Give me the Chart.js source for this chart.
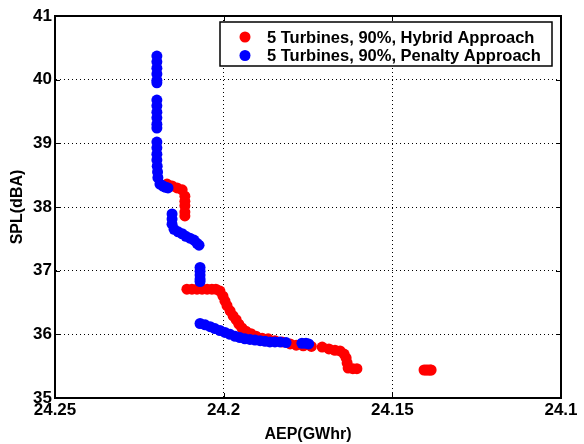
<!DOCTYPE html>
<html>
<head>
<meta charset="utf-8">
<script src="https://cdn.jsdelivr.net/npm/chart.js@4.4.0/dist/chart.umd.min.js"></script>
<style>
  html, body { margin: 0; padding: 0; background: #fff; }
  canvas { display: block; }
</style>
</head>
<body>
<canvas id="splChart" width="584" height="444"></canvas>
<script>
// tick labels
const xTicks = [24.25, 24.2, 24.15, 24.1];
const yTicks = [35, 36, 37, 38, 39, 40, 41];

// 5 Turbines, 90%, Hybrid Approach
const hybridAep = [
  24.2168, 24.2153, 24.2138, 24.2123, 24.2115, 24.2115, 24.2115, 24.2115, 24.2115,
  24.2109, 24.2094, 24.2079, 24.2064, 24.2049, 24.2035, 24.2023,
  24.2011, 24.2002, 24.1996, 24.1990, 24.1981, 24.1972, 24.1963, 24.1955, 24.1946,
  24.1934, 24.1919, 24.1904, 24.1886, 24.1868, 24.1848, 24.1827, 24.1803, 24.1785,
  24.1764, 24.1740, 24.1708, 24.1688, 24.1670, 24.1655, 24.1643, 24.1637, 24.1634,
  24.1631, 24.1617, 24.1605,
  24.1406, 24.1400, 24.1394, 24.1388, 24.1385
];
const hybridSpl = [
  38.36, 38.33, 38.30, 38.27, 38.17, 38.09, 38.02, 37.92, 37.86,
  36.71, 36.71, 36.71, 36.71, 36.71, 36.71, 36.71,
  36.68, 36.60, 36.52, 36.45, 36.37, 36.29, 36.23, 36.16, 36.10,
  36.05, 36.01, 35.97, 35.94, 35.93, 35.90, 35.88, 35.85, 35.83,
  35.82, 35.81, 35.80, 35.77, 35.75, 35.74, 35.69, 35.63, 35.55,
  35.47, 35.46, 35.46,
  35.44, 35.44, 35.44, 35.44, 35.44
];

// 5 Turbines, 90%, Penalty Approach
const penaltyAep = [
  24.2198, 24.2198, 24.2198, 24.2198, 24.2198, 24.2198,
  24.2198, 24.2198, 24.2198, 24.2198, 24.2198, 24.2198,
  24.2198, 24.2198, 24.2198, 24.2198, 24.2197, 24.2196, 24.2195,
  24.2189, 24.2180, 24.2172, 24.2165,
  24.2153, 24.2153, 24.2153, 24.2147, 24.2135, 24.2123, 24.2112, 24.2100, 24.2088,
  24.2079, 24.2073,
  24.2070, 24.2070, 24.2070, 24.2070, 24.2070,
  24.2070, 24.2055, 24.2040, 24.2026, 24.2011, 24.1996, 24.1981, 24.1966, 24.1952,
  24.1937, 24.1922, 24.1907, 24.1892, 24.1877, 24.1863, 24.1848, 24.1833, 24.1815,
  24.1768, 24.1756, 24.1748
];
const penaltySpl = [
  40.37, 40.28, 40.18, 40.09, 39.99, 39.95,
  39.68, 39.59, 39.49, 39.40, 39.30, 39.24,
  39.02, 38.93, 38.83, 38.74, 38.64, 38.55, 38.46,
  38.36, 38.33, 38.31, 38.30,
  37.89, 37.81, 37.73, 37.65, 37.61, 37.58, 37.54, 37.51, 37.48,
  37.43, 37.40,
  37.05, 36.99, 36.93, 36.87, 36.83,
  36.17, 36.15, 36.12, 36.09, 36.06, 36.03, 36.00, 35.97, 35.95,
  35.93, 35.92, 35.91, 35.90, 35.89, 35.88, 35.88, 35.88, 35.87,
  35.86, 35.86, 35.85
];

const toPoints = (xs, ys) => xs.map((v, i) => ({ x: v, y: ys[i] }));

const tickFont = { family: '"Liberation Sans", Arial, sans-serif', size: 17, weight: 'bold' };
const titleFont = { family: '"Liberation Sans", Arial, sans-serif', size: 16, weight: 'bold' };

// top/right box lines and inward tick marks, like the original figure
const boxFrame = {
  id: 'boxFrame',
  afterDatasetsDraw(chart) {
    const { ctx, chartArea: a, scales: { x, y } } = chart;
    ctx.save();
    ctx.strokeStyle = '#000';
    ctx.lineWidth = 2;
    ctx.beginPath();
    ctx.moveTo(a.left, a.top);
    ctx.lineTo(a.right, a.top);
    ctx.lineTo(a.right, a.bottom);
    ctx.stroke();
    ctx.lineWidth = 1;
    ctx.beginPath();
    x.ticks.forEach(t => {
      const px = Math.round(x.getPixelForValue(t.value)) + 0.5;
      ctx.moveTo(px, a.bottom); ctx.lineTo(px, a.bottom - 5);
      ctx.moveTo(px, a.top); ctx.lineTo(px, a.top + 5);
    });
    y.ticks.forEach(t => {
      const py = Math.round(y.getPixelForValue(t.value)) + 0.5;
      ctx.moveTo(a.left, py); ctx.lineTo(a.left + 5, py);
      ctx.moveTo(a.right, py); ctx.lineTo(a.right - 5, py);
    });
    ctx.stroke();
    ctx.restore();
  }
};

// boxed legend in the top right corner of the plot
const boxLegend = {
  id: 'boxLegend',
  afterDraw(chart) {
    const { ctx, chartArea: a } = chart;
    const w = 332, h = 44;
    const left = a.right - 9 - w, top = a.top + 6;
    ctx.save();
    ctx.fillStyle = '#fff';
    ctx.fillRect(left, top, w, h);
    ctx.strokeStyle = '#000';
    ctx.lineWidth = 1.5;
    ctx.strokeRect(left, top, w, h);
    ctx.font = 'bold 16.5px "Liberation Sans", Arial, sans-serif';
    ctx.textBaseline = 'middle';
    chart.data.datasets.forEach((ds, i) => {
      const cy = top + 15 + i * 18.5;
      ctx.fillStyle = ds.backgroundColor;
      ctx.beginPath();
      ctx.arc(left + 25, cy, 5.5, 0, Math.PI * 2);
      ctx.fill();
      ctx.fillStyle = '#000';
      ctx.fillText(ds.label, left + 47, cy + 1);
    });
    ctx.restore();
  }
};

new Chart(document.getElementById('splChart'), {
  type: 'scatter',
  data: {
    datasets: [{
      label: '5 Turbines, 90%, Hybrid Approach',
      data: toPoints(hybridAep, hybridSpl),
      backgroundColor: '#ff0000',
      borderWidth: 0,
      pointRadius: 5.5,
      order: 1
    }, {
      label: '5 Turbines, 90%, Penalty Approach',
      data: toPoints(penaltyAep, penaltySpl),
      backgroundColor: '#0000ff',
      borderWidth: 0,
      pointRadius: 5.5,
      order: 0
    }]
  },
  options: {
    responsive: false,
    animation: false,
    layout: { padding: { top: 16, right: 23, left: 0, bottom: 0 } },
    plugins: {
      legend: { display: false },
      tooltip: { enabled: false }
    },
    scales: {
      x: {
        type: 'linear',
        min: 24.1,
        max: 24.25,
        reverse: true,
        afterBuildTicks: s => { s.ticks = xTicks.map(v => ({ value: v })); },
        afterFit: s => { s.height = 46; },
        ticks: {
          color: '#000',
          font: tickFont,
          padding: 2,
          maxRotation: 0,
          callback: v => String(Number(v.toFixed(2)))
        },
        grid: { color: '#000', lineWidth: 1, drawTicks: false },
        border: { color: '#000', width: 2, dash: [1, 3] },
        title: { display: true, text: 'AEP(GWhr)', color: '#000', font: titleFont, padding: { top: 0, bottom: 0 } }
      },
      y: {
        min: 35,
        max: 41,
        afterBuildTicks: s => { s.ticks = yTicks.map(v => ({ value: v })); },
        afterFit: s => { s.width = 55; },
        ticks: { color: '#000', font: tickFont, padding: 3 },
        grid: { color: '#000', lineWidth: 1, drawTicks: false },
        border: { color: '#000', width: 2, dash: [1, 3] },
        title: { display: true, text: 'SPL(dBA)', color: '#000', font: titleFont, padding: { top: 8, bottom: 0 } }
      }
    }
  },
  plugins: [boxFrame, boxLegend]
});
</script>
</body>
</html>
